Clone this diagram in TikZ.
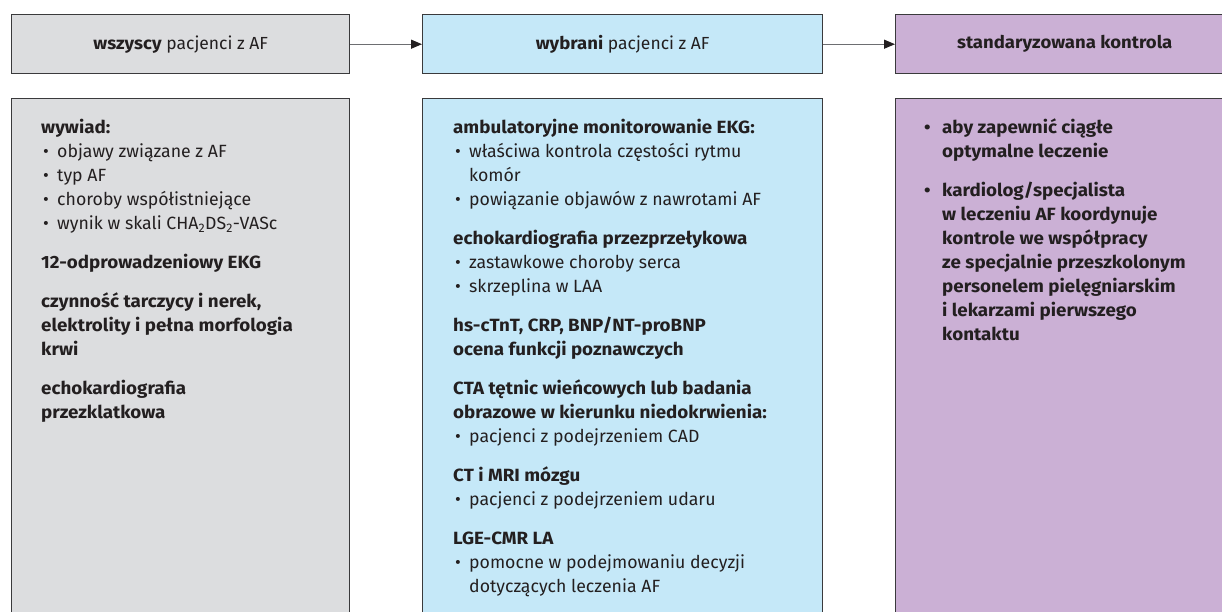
\documentclass[tikz,border=0pt]{standalone}
\usepackage{fontspec}
\setmainfont{Fira Sans}[BoldFeatures={FakeStretch=1.06}]
\usetikzlibrary{arrows.meta}
\definecolor{boxgray}{HTML}{DCDDDF}
\definecolor{boxblue}{HTML}{C5E8F8}
\definecolor{boxpurple}{HTML}{CBB0D5}
\definecolor{edgecol}{HTML}{3A3A3C}
\definecolor{ink}{HTML}{231F20}
\definecolor{linecol}{HTML}{6D6E71}
\newcommand{\bl}{\makebox[16pt][l]{\hspace{2pt}•}}
\newcommand{\ind}{\hspace*{16pt}}
\newcommand{\blb}{\makebox[18pt][l]{•}}
\newcommand{\indb}{\hspace*{18pt}}
\newcommand{\fst}{\rule{0pt}{14pt}}
\begin{document}
\begin{tikzpicture}[x=1pt,y=-1pt,
  box/.style={draw=edgecol, line width=1.4pt, anchor=north west, inner sep=0pt},
  hdr/.style={box, minimum height=59pt, font=\fontsize{17.5}{20}\selectfont, text=ink},
  body/.style={anchor=north west, inner sep=0pt, align=left, text=ink, font=\fontsize{17.7}{24}\selectfont},
  flow/.style={draw=linecol, line width=1.2pt, -{Triangle[length=11pt,width=9pt,fill=ink,color=ink]}}
]
\useasboundingbox (0,0) rectangle (1222,611);
\clip (0,0) rectangle (1222,611);
\node[hdr, fill=boxgray, minimum width=338pt] (h1) at (11,14) {\textbf{wszyscy} pacjenci z AF};
\node[hdr, fill=boxblue, minimum width=400pt] (h2) at (422,14) {\textbf{wybrani} pacjenci z AF};
\node[hdr, fill=boxpurple, minimum width=338pt] (h3) at (895,14) {\textbf{standaryzowana kontrola}};
\draw[flow] (h1.east) -- (h2.west);
\draw[flow] (h2.east) -- (h3.west);
\node[box, fill=boxgray, minimum width=338pt, minimum height=530pt] (b1) at (11,98) {};
\node[box, fill=boxblue, minimum width=400pt, minimum height=530pt] (b2) at (422,98) {};
\node[box, fill=boxpurple, minimum width=338pt, minimum height=530pt] (b3) at (895,98) {};
\node[body] (t1) at (41,119) {\fst\textbf{wywiad:}\\
\bl objawy związane z AF\\
\bl typ AF\\
\bl choroby współistniejące\\
\bl wynik w skali CHA\textsubscript{2}DS\textsubscript{2}-VASc\\[15pt]
\textbf{12-odprowadzeniowy EKG}\\[15pt]
\textbf{czynność tarczycy i nerek,}\\
\textbf{elektrolity i pełna morfologia}\\
\textbf{krwi}\\[15pt]
\textbf{echokardiografia}\\
\textbf{przezklatkowa}};
\node[body] (t2) at (453,119) {\fst\textbf{ambulatoryjne monitorowanie EKG:}\\
\bl właściwa kontrola częstości rytmu\\
\ind komór\\
\bl powiązanie objawów z nawrotami AF\\[15pt]
\textbf{echokardiografia przezprzełykowa}\\
\bl zastawkowe choroby serca\\
\bl skrzeplina w LAA\\[15pt]
\textbf{hs-cTnT, CRP, BNP/NT-proBNP}\\
\textbf{ocena funkcji poznawczych}\\[15pt]
\textbf{CTA tętnic wieńcowych lub badania}\\
\textbf{obrazowe w kierunku niedokrwienia:}\\
\bl pacjenci z podejrzeniem CAD\\[15pt]
\textbf{CT i MRI mózgu}\\
\bl pacjenci z podejrzeniem udaru\\[15pt]
\textbf{LGE-CMR LA}\\
\bl pomocne w podejmowaniu decyzji\\
\ind dotyczących leczenia AF};
\node[body, font=\fontsize{17.7}{24}\selectfont\bfseries] (t3) at (924,119) {\fst\blb aby zapewnić ciągłe\\
\indb optymalne leczenie\\[15pt]
\blb kardiolog/specjalista\\
\indb w leczeniu AF koordynuje\\
\indb kontrole we współpracy\\
\indb ze specjalnie przeszkolonym\\
\indb personelem pielęgniarskim\\
\indb i lekarzami pierwszego\\
\indb kontaktu};
\end{tikzpicture}
\end{document}
